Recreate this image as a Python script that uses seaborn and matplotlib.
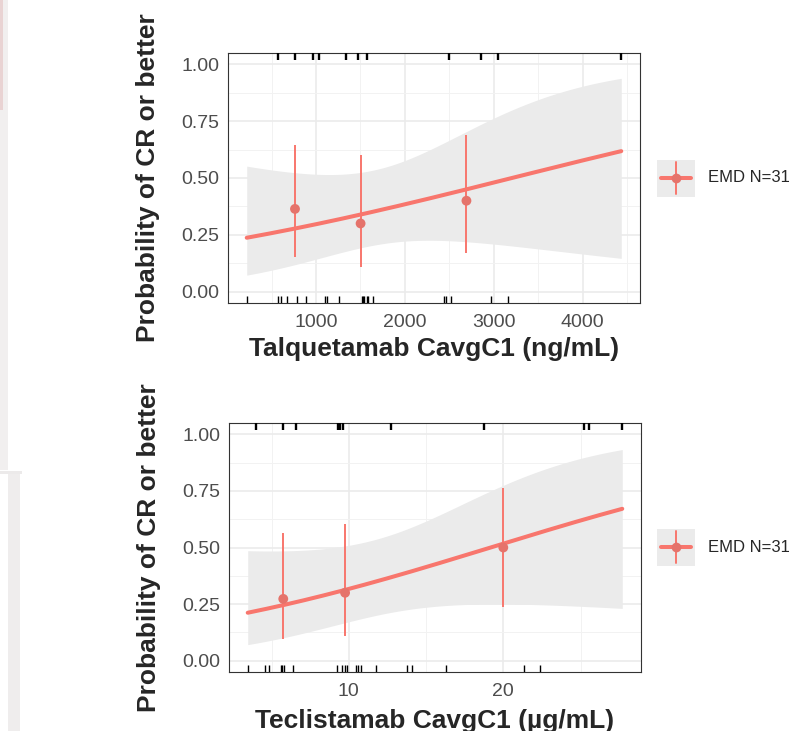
import numpy as np
import pandas as pd
import seaborn as sns
import matplotlib.pyplot as plt
from matplotlib.ticker import MultipleLocator
from matplotlib.patches import Rectangle

# ---- data ----
tal_resp = [576, 764, 963, 1034, 1337, 1475, 1570, 2494, 2862, 3048, 4435]
tal_nonresp = [221, 576, 603, 671, 783, 884, 1101, 1127, 1258, 1513, 1528,
               1539, 1570, 1588, 1644, 2438, 2461, 2517, 2974, 3161]
tal_bin_x = [764, 1502, 2693]
tal_bin_p = [0.364, 0.300, 0.400]
tal_bin_lo = [0.152, 0.108, 0.168]
tal_bin_hi = [0.646, 0.603, 0.687]

tec_resp = [4.0, 5.76, 6.58, 9.27, 9.42, 9.63, 12.75, 18.73, 25.23, 25.57, 27.70]
tec_nonresp = [3.46, 4.58, 4.86, 5.61, 5.71, 5.79, 6.41, 9.21, 9.55, 9.74, 9.87,
               10.45, 10.61, 10.77, 11.74, 13.79, 14.08, 16.32, 21.35, 22.39]
tec_bin_x = [5.76, 9.76, 20.0]
tec_bin_p = [0.273, 0.300, 0.500]
tec_bin_lo = [0.097, 0.108, 0.237]
tec_bin_hi = [0.566, 0.603, 0.763]

legend_label = "EMD N=31"
ylab = "Probability of CR or better"
tal_xlab = "Talquetamab CavgC1 (ng/mL)"
tec_xlab = "Teclistamab CavgC1 (µg/mL)"

RED = "#F8766D"
PT = "#E5736B"
BAND = "#EBEBEB"


def logit_fit(x, y):
    # plain logistic regression (IRLS) for the smooth + 95% band
    X = np.column_stack([np.ones_like(x), x])
    b = np.zeros(2)
    for _ in range(60):
        p = 1 / (1 + np.exp(-X @ b))
        W = p * (1 - p)
        H = X.T @ (X * W[:, None])
        b = b + np.linalg.solve(H, X.T @ (y - p))
    return b, np.linalg.inv(H)


def panel(ax, resp, nonresp, bx, bp, blo, bhi, xmaj, xmin, xlab, xlabel_y):
    df = pd.DataFrame({"x": resp + nonresp,
                       "y": [1] * len(resp) + [0] * len(nonresp)})
    b, cov = logit_fit(df.x.values.astype(float), df.y.values.astype(float))
    lo_x, hi_x = df.x.min(), df.x.max()
    grid = pd.DataFrame({"x": np.linspace(lo_x, hi_x, 200)})
    Xg = np.column_stack([np.ones(len(grid)), grid.x])
    eta = Xg @ b
    se = np.sqrt(np.einsum("ij,jk,ik->i", Xg, cov, Xg))
    grid["fit"] = 1 / (1 + np.exp(-eta))
    grid["lo"] = 1 / (1 + np.exp(-(eta - 1.96 * se)))
    grid["hi"] = 1 / (1 + np.exp(-(eta + 1.96 * se)))

    ax.fill_between(grid.x, grid.lo, grid.hi, color=BAND, lw=0, zorder=1)
    sns.lineplot(data=grid, x="x", y="fit", ax=ax, color=RED, lw=2.9, zorder=3)
    ax.vlines(bx, blo, bhi, color=RED, lw=1.4, zorder=4)
    sns.scatterplot(x=bx, y=bp, ax=ax, color=PT, s=50, edgecolor="none", zorder=5)

    sns.rugplot(x=nonresp, ax=ax, height=0.028, color="black", lw=1.7, zorder=6)
    ax.vlines(resp, 1 - 0.028, 1, transform=ax.get_xaxis_transform(),
              color="black", lw=1.7, zorder=6)

    pad = (hi_x - lo_x) * 0.05
    ax.set_xlim(lo_x - pad, hi_x + pad)
    ax.set_ylim(-0.05, 1.05)
    ax.set_yticks([0, 0.25, 0.5, 0.75, 1.0])
    ax.set_yticklabels(["0.00", "0.25", "0.50", "0.75", "1.00"])
    ax.yaxis.set_minor_locator(MultipleLocator(0.125))
    ax.xaxis.set_major_locator(MultipleLocator(xmaj))
    ax.xaxis.set_minor_locator(MultipleLocator(xmin))
    ax.grid(which="major", color="#EBEBEB", lw=1.2, zorder=0)
    ax.grid(which="minor", color="#F2F2F2", lw=0.7, zorder=0)
    ax.set_axisbelow(True)
    ax.set_facecolor("white")
    for s in ax.spines.values():
        s.set_color("#333333")
        s.set_linewidth(0.8)
    ax.tick_params(which="major", length=3, width=0.8, color="#333333",
                   labelsize=14, labelcolor="#4D4D4D", pad=3)
    ax.tick_params(axis="x", which="major", pad=5)
    ax.tick_params(which="minor", length=0)
    for t in ax.get_xticklabels() + ax.get_yticklabels():
        t.set_family("Liberation Sans")
    ax.set_xlabel(xlab, fontsize=19, fontweight="bold", family="Liberation Sans")
    ax.set_ylabel(ylab, fontsize=19, fontweight="bold", family="Liberation Sans")
    ax.xaxis.set_label_coords(0.5, xlabel_y)
    ax.yaxis.set_label_coords(-0.165, 0.5)


def legend_key(fig, cx, cy):
    W, H = 798, 731
    kw, kh = 38, 37
    kax = fig.add_axes([(cx - kw / 2) / W, 1 - (cy + kh / 2) / H, kw / W, kh / H])
    kax.set_xlim(0, 1)
    kax.set_ylim(0, 1)
    kax.axis("off")
    kax.add_patch(Rectangle((0, 0), 1, 1, color=BAND, zorder=0))
    kax.plot([0.1, 0.9], [0.5, 0.5], color=RED, lw=2.9)
    kax.plot([0.5, 0.5], [0.08, 0.92], color=RED, lw=1.4)
    kax.plot([0.5], [0.5], "o", color=PT, ms=7, mec="none")
    fig.text((cx + kw / 2 + 13) / W, 1 - cy / H, legend_label, fontsize=12,
             family="Liberation Sans", va="center", ha="left")


sns.set_style("white")
fig = plt.figure(figsize=(7.98, 7.31), dpi=100)
W, H = 798, 731

# screenshot edge remnants on the left
fig.patches.append(Rectangle((0, 1 - 470 / H), 8 / W, 470 / H, transform=fig.transFigure,
                             facecolor="#F1EFEF", edgecolor="none"))
fig.patches.append(Rectangle((0, 1 - 110 / H), 3 / W, 110 / H, transform=fig.transFigure,
                             facecolor="#E9D3D3", edgecolor="none"))
fig.patches.append(Rectangle((0, 1 - 474 / H), 22 / W, 3 / H, transform=fig.transFigure,
                             facecolor="#ECEAEA", edgecolor="none"))
fig.patches.append(Rectangle((8 / W, 0), 12 / W, 1 - 474 / H, transform=fig.transFigure,
                             facecolor="#EFEDED", edgecolor="none"))

ax1 = fig.add_axes([228 / W, 1 - 303 / H, 412 / W, 250 / H])
panel(ax1, tal_resp, tal_nonresp, tal_bin_x, tal_bin_p, tal_bin_lo, tal_bin_hi,
      1000, 500, tal_xlab, -0.135)

ax2 = fig.add_axes([229 / W, 1 - 672 / H, 412 / W, 249 / H])
panel(ax2, tec_resp, tec_nonresp, tec_bin_x, tec_bin_p, tec_bin_lo, tec_bin_hi,
      10, 5, tec_xlab, -0.15)

legend_key(fig, 676, 178)
legend_key(fig, 676, 547)

fig.savefig("out.png", dpi=100)
